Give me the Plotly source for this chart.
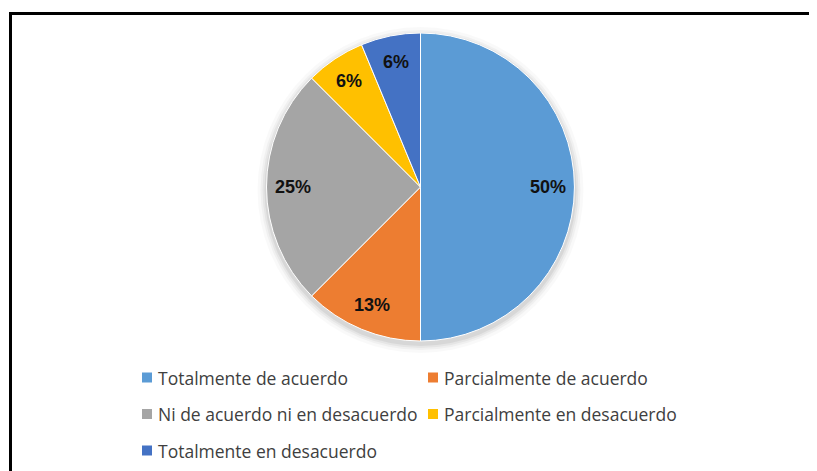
import math
import plotly.graph_objects as go

labels = ["Totalmente de acuerdo", "Parcialmente de acuerdo",
          "Ni de acuerdo ni en desacuerdo", "Parcialmente en desacuerdo",
          "Totalmente en desacuerdo"]
values = [8, 2, 4, 1, 1]
colors = ["#5B9BD5", "#ED7D31", "#A5A5A5", "#FFC000", "#4472C4"]

# page body has an 8px margin, so the figure is drawn smaller and shifted
OFF = 8
W, H = 817 - OFF, 471 - OFF
cx, cy, R = 420.5 - OFF, 187 - OFF, 154


def px_x(x):
    return x / W


def px_y(y):
    return 1 - y / H


fig = go.Figure(go.Pie(
    labels=labels, values=values, sort=False, direction="clockwise", rotation=0,
    marker=dict(colors=colors, line=dict(color="white", width=1)),
    textinfo="none", hoverinfo="label+percent", showlegend=False,
    domain=dict(x=[px_x(cx - R), px_x(cx + R)], y=[px_y(cy + R), px_y(cy - R)]),
))

shapes = []
# soft shadow behind the pie
for grow, alpha in [(9, 0.025), (6, 0.035), (4, 0.045), (2, 0.06)]:
    rr = R + grow
    sy = cy + 3
    shapes.append(dict(type="circle", xref="paper", yref="paper", layer="below",
                       x0=px_x(cx - rr), x1=px_x(cx + rr),
                       y0=px_y(sy + rr), y1=px_y(sy - rr),
                       fillcolor="rgba(0,0,0,%g)" % alpha, line=dict(width=0)))

total = sum(values)
annotations = []
cum = 0
for v in values:
    frac = (cum + v / 2) / total
    ang = math.radians(90 - 360 * frac)
    r = 0.83 * R
    x = cx + r * math.cos(ang)
    y = cy - r * math.sin(ang)
    pct = v / total * 100
    annotations.append(dict(
        x=px_x(x), y=px_y(y), xref="paper", yref="paper",
        text="<b>%d%%</b>" % int(math.floor(pct + 0.5)), showarrow=False,
        font=dict(family="Liberation Sans", size=18, color="#111111"),
        xanchor="center", yanchor="middle"))
    cum += v

# legend drawn manually (two columns)
col_x = [142 - OFF, 428 - OFF]
row_y = [377.5 - OFF, 414 - OFF, 450.5 - OFF]
for i, (lab, c) in enumerate(zip(labels, colors)):
    x0 = col_x[i % 2]
    yc = row_y[i // 2]
    shapes.append(dict(type="rect", xref="paper", yref="paper",
                       x0=px_x(x0), x1=px_x(x0 + 10),
                       y0=px_y(yc + 5), y1=px_y(yc - 5),
                       fillcolor=c, line=dict(width=0)))
    annotations.append(dict(x=px_x(x0 + 14), y=px_y(yc), xref="paper", yref="paper",
                            text=lab, showarrow=False, xanchor="left", yanchor="middle",
                            font=dict(family="Open Sans", size=17.5, color="#404040")))

# chart frame: only the left and top edges are inside the picture
fx, fy = px_x(10.5 - OFF), px_y(13.5 - OFF)
shapes.append(dict(type="line", xref="paper", yref="paper",
                   x0=fx, y0=fy, x1=fx, y1=0, line=dict(color="black", width=3)))
shapes.append(dict(type="line", xref="paper", yref="paper",
                   x0=fx - 1.5 / W, y0=fy, x1=1, y1=fy, line=dict(color="black", width=3)))

fig.update_layout(width=W, height=H, margin=dict(l=0, r=0, t=0, b=0),
                  paper_bgcolor="white", plot_bgcolor="white",
                  annotations=annotations, shapes=shapes)
fig.write_html("out.html")
